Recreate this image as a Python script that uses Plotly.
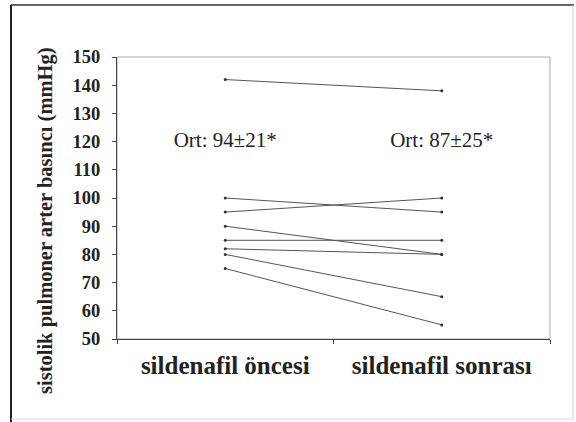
import plotly.graph_objects as go

categories = ["sildenafil öncesi", "sildenafil sonrası"]
before = [142, 100, 95, 90, 85, 82, 80, 75]
after = [138, 95, 100, 80, 85, 80, 65, 55]
mean_labels = ["Ort: 94±21*", "Ort: 87±25*"]
label_level = 120
y_ticks = list(range(50, 151, 10))

SERIF = "Liberation Serif, Times New Roman, DejaVu Serif, serif"

W, H = 576, 422
L, R, T, B = 117, 550, 57, 339

fig = go.Figure()
for b, a in zip(before, after):
    fig.add_trace(go.Scatter(
        x=categories, y=[b, a], mode="lines+markers",
        line=dict(color="#555555", width=1),
        marker=dict(color="#333333", size=3),
        showlegend=False, hoverinfo="skip"))

fig.add_trace(go.Scatter(
    x=categories, y=[label_level, label_level], mode="text",
    text=mean_labels, textposition="middle center",
    textfont=dict(family=SERIF, size=21, color="#222222"),
    showlegend=False, hoverinfo="skip"))

def px_x(p):
    return (p - L) / (R - L)

def px_y(p):
    return (B - p) / (B - T)

shapes = [
    dict(type="rect", xref="paper", yref="paper", x0=0, y0=0, x1=1, y1=1,
         line=dict(color="#aaaaaa", width=1), layer="below"),
    dict(type="line", xref="paper", yref="paper", x0=px_x(11), x1=px_x(11),
         y0=px_y(5), y1=px_y(422), line=dict(color="#222222", width=2)),
    dict(type="line", xref="paper", yref="paper", x0=px_x(11), x1=px_x(574),
         y0=px_y(5), y1=px_y(5), line=dict(color="#333333", width=1.5)),
    dict(type="line", xref="paper", yref="paper", x0=px_x(573), x1=px_x(573),
         y0=px_y(5), y1=px_y(420), line=dict(color="#cccccc", width=1)),
    dict(type="line", xref="paper", yref="paper", x0=px_x(11), x1=px_x(573),
         y0=px_y(419), y1=px_y(419), line=dict(color="#dddddd", width=1)),
]

fig.update_layout(
    width=W, height=H,
    margin=dict(l=L, r=W - R, t=T, b=H - B),
    paper_bgcolor="white", plot_bgcolor="white",
    shapes=shapes,
    annotations=[dict(
        text="sistolik pulmoner arter basıncı (mmHg)",
        xref="paper", yref="paper", x=px_x(45), y=px_y(221),
        textangle=-90, showarrow=False,
        font=dict(family=SERIF, size=20.5, color="#222222", weight="bold"),
        xanchor="center", yanchor="middle")],
    xaxis=dict(
        type="category", range=[-0.5, 1.5], tickson="boundaries",
        showline=True, linecolor="#444444", linewidth=1,
        ticks="outside", ticklen=4, tickcolor="#444444",
        showgrid=False, zeroline=False, ticklabelstandoff=4,
        tickfont=dict(family=SERIF, size=25, color="#222222", weight="bold"),
    ),
    yaxis=dict(
        range=[50, 150], tickvals=y_ticks,
        showline=True, linecolor="#444444", linewidth=1,
        ticks="outside", ticklen=4, tickcolor="#444444",
        showgrid=False, zeroline=False, ticklabelstandoff=8,
        tickfont=dict(family=SERIF, size=18.5, color="#222222", weight="bold"),
    ),
)

fig.write_html("out.html", config={"displayModeBar": False},
               post_script="document.body.style.margin='0';")
